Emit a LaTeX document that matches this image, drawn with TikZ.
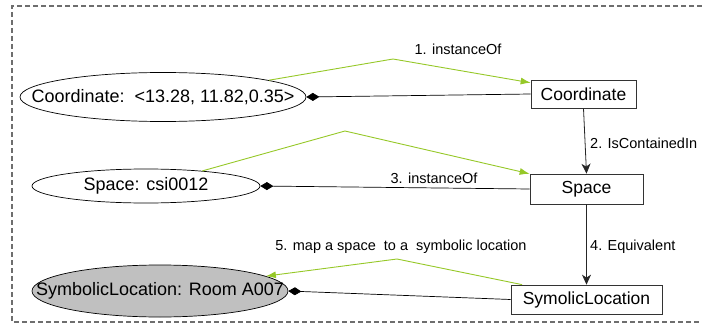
\documentclass[tikz,border=0pt]{standalone}
\usepackage{fontspec}
\setmainfont{Liberation Sans}
\usetikzlibrary{shapes.geometric,arrows.meta}
\definecolor{lgreen}{RGB}{150,200,40}
\definecolor{frameg}{RGB}{110,110,110}
\definecolor{fillg}{RGB}{192,192,192}
\tikzset{
  inst/.style={ellipse,draw=black,line width=0.7pt,inner sep=0pt,font=\fontsize{18}{20}\selectfont},
  cls/.style={rectangle,draw=black!80,line width=0.7pt,inner sep=0pt,font=\fontsize{17.5}{20}\selectfont},
  lbl/.style={font=\fontsize{14.5}{17}\selectfont,inner sep=0pt},
  diam/.style={draw=black,line width=0.7pt,-{Diamond[length=13pt,width=8pt]}},
  glink/.style={draw=lgreen,line width=0.9pt,-{Latex[length=10pt,width=7pt]}},
  blink/.style={draw=black!85,line width=0.8pt,-{Stealth[length=10pt,width=9pt,inset=3pt]}},
  frame/.style={draw=frameg,line width=1.1pt,dash pattern=on 5pt off 3pt}
}
\newcommand{\tightlbl}[1]{\makebox[0pt]{#1}}
\begin{document}
\begin{tikzpicture}[x=1pt,y=-1pt]
\useasboundingbox (0,0) rectangle (702,324);
\draw[frame] (702,6) -- (12,6) -- (12,322) -- (702,322);

\node[inst,minimum width=286,minimum height=49] (e1) at (163,97) {\tightlbl{Coordinate:\ \ {<}13.28, 11.82,0.35{>}}};
\node[inst,minimum width=228,minimum height=34] (e2) at (146,186) {\tightlbl{Space: csi0012}};
\node[inst,fill=fillg,minimum width=256,minimum height=52] (e3) at (160,291) {\tightlbl{SymbolicLocation: Room A007}};

\node[cls,minimum width=105,minimum height=28] (b1) at (583.5,94) {Coordinate};
\node[cls,minimum width=113,minimum height=30] (b2) at (586.5,189) {Space};
\node[cls,minimum width=151,minimum height=29] (b3) at (586.5,299.5) {SymolicLocation};

\coordinate (g1) at (393,59);
\coordinate (g2) at (345,131);
\coordinate (g3) at (397,259);

\draw[diam] (b1.west) -- (e1.east);
\draw[diam] (b2.west) -- (e2.east);
\draw[diam] (b3.west) -- (e3.east);

\draw[blink] (b1.south) -- (b2.north);
\draw[blink] (b2.south) -- (b3.north);

\draw[glink] (e1.9) -- (g1) -- (b1.168);
\draw[glink] (e2.15) -- (g2) -- (b2.165);
\draw[glink] (b3.167) -- (g3) -- (e3.8);

\node[lbl] (l1) at (458,49) {1. instanceOf};
\node[lbl,anchor=west] (l2) at (590,143) {2. IsContainedIn};
\node[lbl] (l3) at (434,178) {3. instanceOf};
\node[lbl,anchor=west] (l4) at (590,247) {4. Equivalent};
\node[lbl] (l5) at (401,247) {5. map a space\ \ to a\ \ symbolic location};
\end{tikzpicture}
\end{document}
